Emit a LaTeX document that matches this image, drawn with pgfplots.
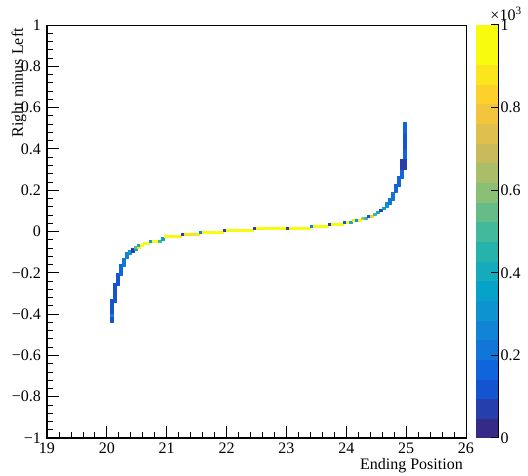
\documentclass[border=0pt]{standalone}
\usepackage{fontspec}
\setmainfont{Liberation Serif}
\usepackage{pgfplots}
\pgfplotsset{compat=1.18}

% ROOT kBird palette, 20 contour bands (last colour repeated for piecewise constant access)
\pgfplotsset{
  colormap={rootbird}{
    rgb=(0.208,0.166,0.529) rgb=(0.145,0.248,0.672) rgb=(0.083,0.329,0.815)
    rgb=(0.064,0.398,0.861) rgb=(0.072,0.459,0.848) rgb=(0.072,0.519,0.834)
    rgb=(0.049,0.577,0.814) rgb=(0.026,0.635,0.794) rgb=(0.081,0.670,0.737)
    rgb=(0.147,0.702,0.674) rgb=(0.254,0.724,0.605) rgb=(0.401,0.738,0.531)
    rgb=(0.545,0.748,0.460) rgb=(0.667,0.741,0.411) rgb=(0.788,0.735,0.362)
    rgb=(0.875,0.750,0.302) rgb=(0.949,0.772,0.237) rgb=(0.993,0.817,0.174)
    rgb=(0.985,0.900,0.114) rgb=(0.976,0.983,0.054) rgb=(0.976,0.983,0.054)
  }
}

\begin{document}
\fontsize{16}{19}\selectfont
\begin{tikzpicture}
\useasboundingbox (-47pt,-38pt) rectangle (481pt,438pt);
\begin{axis}[
  scale only axis,
  width=419pt, height=413pt,
  xmin=19, xmax=26, ymin=-1, ymax=1,
  xtick={19,20,...,26},
  ytick={-1,-0.8,-0.6,-0.4,-0.2,0,0.2,0.4,0.6,0.8,1},
  yticklabels={−1,−0.8,−0.6,−0.4,−0.2,0,0.2,0.4,0.6,0.8,1},
  minor x tick num=4, minor y tick num=4,
  tick pos=left, tick align=inside,
  major tick length=12pt, minor tick length=6pt,
  every tick/.style={black, line width=0.8pt},
  axis line style={line width=0.8pt},
  /pgf/number format/assume math mode=true,
  xticklabel style={inner sep=0pt, anchor=north, yshift=-5pt},
  yticklabel style={inner sep=0pt, anchor=east, xshift=-6pt},
  xlabel={Ending Position},
  ylabel={Right minus Left},
  xlabel style={at={(axis description cs:0.9928,-0.0751)}, anchor=base east, inner sep=0pt},
  ylabel style={at={(axis description cs:-0.0573,0.9927)}, anchor=base east, inner sep=0pt},
  colormap name=rootbird,
  colormap access=piecewise constant,
  point meta min=0, point meta max=1000,
  colorbar,
  colorbar style={
    scale only axis,
    width=22pt, height=413pt,
    at={(parent axis.north east)}, anchor=north west, xshift=1pt,
    ytick={0,200,400,600,800,1000},
    yticklabels={0,0.2,0.4,0.6,0.8,1},
    yticklabel pos=right,
    major tick length=0pt,
    yticklabel style={inner sep=0pt, anchor=west, xshift=3pt},
    axis line style={draw=none},
  },
  extra description/.code={
    \node[anchor=south west, inner sep=0pt] at (axis description cs:1.058,1.01) {×10\textsuperscript{3}};
  },
]
\addplot[patch, patch type=rectangle, shader=flat, point meta=explicit] coordinates {
(20.05,-0.44)[140] (20.10,-0.44)[140] (20.10,-0.33)[140] (20.05,-0.33)[140]
(20.05,-0.41)[260] (20.10,-0.41)[260] (20.10,-0.40)[260] (20.05,-0.40)[260]
(20.10,-0.34)[120] (20.15,-0.34)[120] (20.15,-0.25)[120] (20.10,-0.25)[120]
(20.15,-0.26)[140] (20.20,-0.26)[140] (20.20,-0.20)[140] (20.15,-0.20)[140]
(20.20,-0.21)[180] (20.25,-0.21)[180] (20.25,-0.16)[180] (20.20,-0.16)[180]
(20.25,-0.17)[200] (20.30,-0.17)[200] (20.30,-0.13)[200] (20.25,-0.13)[200]
(20.30,-0.13)[260] (20.35,-0.13)[260] (20.35,-0.10)[260] (20.30,-0.10)[260]
(20.35,-0.11)[300] (20.40,-0.11)[300] (20.40,-0.09)[300] (20.35,-0.09)[300]
(20.40,-0.10)[60] (20.45,-0.10)[60] (20.45,-0.08)[60] (20.40,-0.08)[60]
(20.45,-0.09)[380] (20.50,-0.09)[380] (20.50,-0.08)[380] (20.45,-0.08)[380]
(20.45,-0.08)[560] (20.50,-0.08)[560] (20.50,-0.07)[560] (20.45,-0.07)[560]
(20.50,-0.08)[900] (20.55,-0.08)[900] (20.55,-0.07)[900] (20.50,-0.07)[900]
(20.50,-0.07)[400] (20.55,-0.07)[400] (20.55,-0.06)[400] (20.50,-0.06)[400]
(20.55,-0.07)[950] (20.60,-0.07)[950] (20.60,-0.06)[950] (20.55,-0.06)[950]
(20.60,-0.06)[980] (20.70,-0.06)[980] (20.70,-0.05)[980] (20.60,-0.05)[980]
(20.70,-0.05)[380] (20.75,-0.05)[380] (20.75,-0.04)[380] (20.70,-0.04)[380]
(20.75,-0.05)[970] (20.85,-0.05)[970] (20.85,-0.04)[970] (20.75,-0.04)[970]
(20.85,-0.05)[480] (20.90,-0.05)[480] (20.90,-0.04)[480] (20.85,-0.04)[480]
(20.90,-0.04)[340] (20.95,-0.04)[340] (20.95,-0.03)[340] (20.90,-0.03)[340]
(20.95,-0.03)[990] (21.25,-0.03)[990] (21.25,-0.02)[990] (20.95,-0.02)[990]
(21.25,-0.02)[60] (21.30,-0.02)[60] (21.30,-0.01)[60] (21.25,-0.01)[60]
(21.30,-0.02)[880] (21.55,-0.02)[880] (21.55,-0.01)[880] (21.30,-0.01)[880]
(21.55,-0.01)[260] (21.60,-0.01)[260] (21.60,0.00)[260] (21.55,0.00)[260]
(21.60,-0.01)[990] (21.95,-0.01)[990] (21.95,0.00)[990] (21.60,0.00)[990]
(21.95,0.00)[60] (22.00,0.00)[60] (22.00,0.01)[60] (21.95,0.01)[60]
(22.00,0.00)[960] (22.45,0.00)[960] (22.45,0.01)[960] (22.00,0.01)[960]
(22.45,0.01)[60] (22.50,0.01)[60] (22.50,0.02)[60] (22.45,0.02)[60]
(22.50,0.01)[990] (23.00,0.01)[990] (23.00,0.02)[990] (22.50,0.02)[990]
(23.00,0.01)[80] (23.05,0.01)[80] (23.05,0.02)[80] (23.00,0.02)[80]
(23.05,0.01)[970] (23.40,0.01)[970] (23.40,0.02)[970] (23.05,0.02)[970]
(23.40,0.02)[280] (23.45,0.02)[280] (23.45,0.03)[280] (23.40,0.03)[280]
(23.45,0.02)[950] (23.70,0.02)[950] (23.70,0.03)[950] (23.45,0.03)[950]
(23.70,0.03)[60] (23.75,0.03)[60] (23.75,0.04)[60] (23.70,0.04)[60]
(23.75,0.03)[990] (23.95,0.03)[990] (23.95,0.04)[990] (23.75,0.04)[990]
(23.95,0.04)[140] (24.00,0.04)[140] (24.00,0.05)[140] (23.95,0.05)[140]
(24.00,0.04)[950] (24.05,0.04)[950] (24.05,0.05)[950] (24.00,0.05)[950]
(24.05,0.04)[420] (24.10,0.04)[420] (24.10,0.05)[420] (24.05,0.05)[420]
(24.10,0.05)[900] (24.15,0.05)[900] (24.15,0.06)[900] (24.10,0.06)[900]
(24.15,0.05)[300] (24.20,0.05)[300] (24.20,0.06)[300] (24.15,0.06)[300]
(24.20,0.05)[950] (24.25,0.05)[950] (24.25,0.06)[950] (24.20,0.06)[950]
(24.25,0.06)[620] (24.30,0.06)[620] (24.30,0.07)[620] (24.25,0.07)[620]
(24.30,0.06)[500] (24.35,0.06)[500] (24.35,0.07)[500] (24.30,0.07)[500]
(24.35,0.07)[100] (24.40,0.07)[100] (24.40,0.08)[100] (24.35,0.08)[100]
(24.40,0.07)[820] (24.45,0.07)[820] (24.45,0.08)[820] (24.40,0.08)[820]
(24.45,0.08)[480] (24.50,0.08)[480] (24.50,0.09)[480] (24.45,0.09)[480]
(24.50,0.09)[400] (24.55,0.09)[400] (24.55,0.10)[400] (24.50,0.10)[400]
(24.55,0.10)[60] (24.60,0.10)[60] (24.60,0.11)[60] (24.55,0.11)[60]
(24.60,0.11)[350] (24.65,0.11)[350] (24.65,0.12)[350] (24.60,0.12)[350]
(24.65,0.12)[300] (24.70,0.12)[300] (24.70,0.14)[300] (24.65,0.14)[300]
(24.70,0.13)[230] (24.75,0.13)[230] (24.75,0.16)[230] (24.70,0.16)[230]
(24.75,0.15)[200] (24.80,0.15)[200] (24.80,0.19)[200] (24.75,0.19)[200]
(24.80,0.19)[150] (24.85,0.19)[150] (24.85,0.23)[150] (24.80,0.23)[150]
(24.85,0.22)[160] (24.90,0.22)[160] (24.90,0.27)[160] (24.85,0.27)[160]
(24.90,0.26)[150] (24.95,0.26)[150] (24.95,0.35)[150] (24.90,0.35)[150]
(24.90,0.30)[70] (24.95,0.30)[70] (24.95,0.35)[70] (24.90,0.35)[70]
(24.95,0.30)[160] (25.00,0.30)[160] (25.00,0.53)[160] (24.95,0.53)[160]
(24.95,0.30)[70] (25.00,0.30)[70] (25.00,0.35)[70] (24.95,0.35)[70]
(24.95,0.40)[110] (25.00,0.40)[110] (25.00,0.47)[110] (24.95,0.47)[110]
};
\end{axis}
% ROOT-style heavier left/bottom axis lines and palette axis with ticks across its edge
\draw[line width=1.5pt] (0pt,413pt) -- (0pt,0pt) -- (419pt,0pt);
\draw[line width=1pt] (451.5pt,0pt) -- (451.5pt,413pt);
\foreach \t in {0,82.6,165.2,247.8,330.4,413}
  \draw[line width=1pt] (444pt,\t pt) -- (452pt,\t pt);
\end{tikzpicture}
\end{document}
